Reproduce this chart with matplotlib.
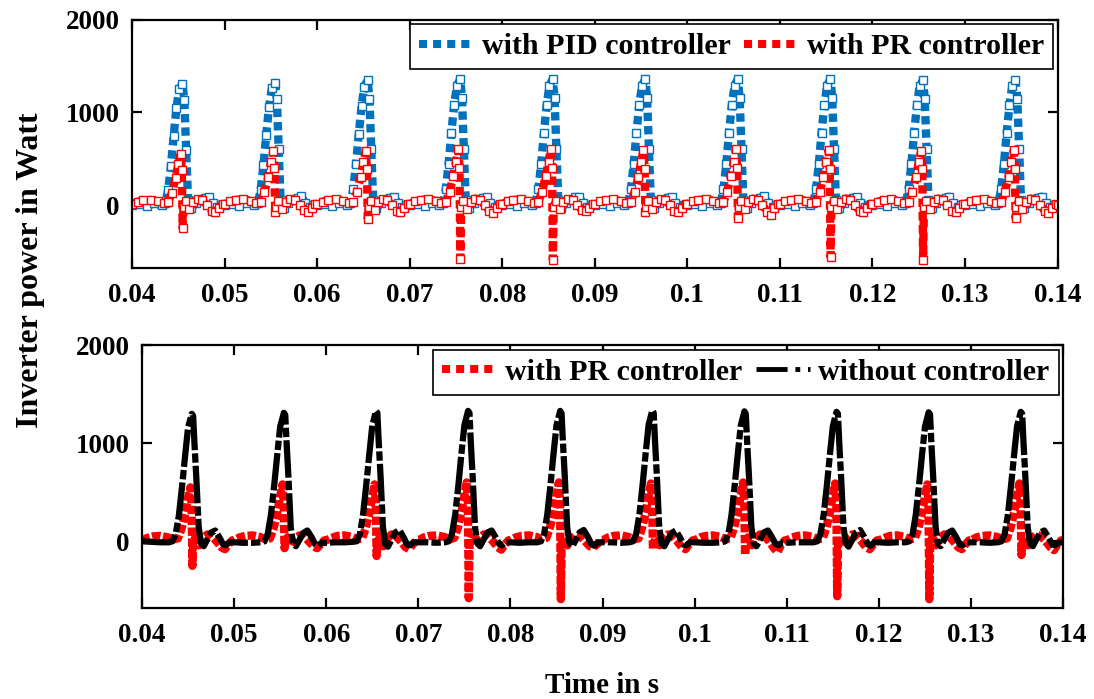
import numpy as np
import matplotlib; matplotlib.use('Agg')
import matplotlib.pyplot as plt
from matplotlib.lines import Line2D

plt.rcParams['font.family'] = ['Liberation Serif', 'DejaVu Serif']
plt.rcParams['font.weight'] = 'bold'

# --- data ----------------------------------------------------------------
# each period (0.01 s) starts at one of these times
CYCLE_START = [0.04, 0.05, 0.06, 0.07, 0.08, 0.09, 0.10, 0.11, 0.12, 0.13]
T_END = 0.14

# without controller (black), sample times within a period in ms
NC_OFF = [0.0, 1.0, 2.0, 2.9, 3.3, 3.65, 4.0, 4.35, 4.7, 5.0, 5.4, 5.55,
          5.7, 5.9, 6.15, 6.4, 6.7, 7.1, 7.5, 7.95, 8.4, 8.8, 9.1, 9.5]
NC_VALS = [
    [0, -5, -10, -10, 0, 70, 260, 560, 890, 1160, 1300, 1280, 990, 640, 150, -20, -50, 20, 90, 110, 40, -30, -40, -10],
    [-10, -15, -15, -10, 0, 75, 270, 570, 900, 1170, 1310, 1290, 1000, 650, 140, -20, -50, 15, 85, 110, 45, -30, -45, -15],
    [-15, -10, -10, -5, 0, 70, 275, 580, 910, 1180, 1330, 1310, 1010, 660, 150, -25, -55, 20, 90, 115, 40, -35, -40, -10],
    [-10, -10, -15, -10, 0, 75, 270, 575, 915, 1185, 1330, 1310, 1000, 650, 145, -20, -50, 20, 90, 110, 40, -30, -40, -10],
    [-10, -15, -10, -10, 0, 70, 275, 580, 915, 1185, 1330, 1305, 1005, 655, 150, -20, -55, 15, 90, 115, 45, -30, -45, -10],
    [-10, -10, -15, -10, 0, 75, 275, 580, 920, 1190, 1335, 1310, 1010, 650, 145, -25, -50, 20, 85, 110, 40, -35, -40, -10],
    [-10, -15, -15, -10, 0, 70, 270, 575, 910, 1180, 1325, 1300, 1000, 650, 150, -20, -50, 20, 90, 110, 40, -30, -40, -15],
    [-15, -10, -10, -10, 0, 75, 270, 570, 905, 1175, 1320, 1300, 995, 645, 145, -20, -55, 15, 90, 115, 45, -30, -45, -10],
    [-10, -15, -10, -10, 0, 70, 270, 570, 900, 1170, 1315, 1295, 990, 640, 150, -25, -50, 20, 85, 110, 40, -35, -40, -10],
    [-10, -10, -15, -10, 0, 75, 270, 575, 905, 1175, 1320, 1300, 1000, 650, 145, -20, -50, 20, 90, 110, 40, -30, -40, -15],
]
NC_LAST = -10

# with PR controller (red)
PR_OFF = [0.0, 0.6, 1.2, 2.0, 2.8, 3.4, 3.9, 4.3, 4.7, 5.0, 5.25, 5.38,
          5.47, 5.56, 5.8, 6.2, 6.6, 7.1, 7.6, 8.1, 8.6, 9.0, 9.4, 9.8]
PR_VALS = [
    [10, 35, 50, 55, 40, 20, 30, 130, 290, 440, 550, 380, -250, -20, 40, -40, 30, 70, 50, 0, -60, -80, -30, 10],
    [10, 40, 55, 60, 45, 20, 30, 140, 300, 460, 580, 400, -70, -20, 40, -40, 30, 60, 50, 0, -50, -70, -30, 10],
    [10, 35, 55, 60, 45, 20, 30, 140, 300, 460, 580, 390, -150, -20, 40, -50, 30, 70, 50, 0, -60, -80, -30, 10],
    [10, 40, 55, 60, 45, 20, 35, 140, 310, 470, 600, 400, -580, -20, 40, -40, 30, 70, 50, 0, -60, -85, -30, 10],
    [10, 40, 55, 60, 45, 20, 35, 145, 310, 470, 600, 400, -590, -20, 40, -40, 30, 65, 50, 0, -50, -60, -30, 10],
    [10, 40, 55, 60, 45, 20, 30, 140, 305, 465, 590, 390, -80, -20, 40, -40, 30, 70, 50, 0, -60, -80, -30, 10],
    [10, 40, 55, 60, 45, 20, 35, 145, 310, 470, 600, 400, -140, -20, 40, -40, 30, 70, 50, 0, -70, -110, -30, 10],
    [10, 40, 55, 60, 45, 20, 30, 140, 305, 465, 590, 390, -560, -20, 40, -40, 30, 70, 50, 0, -60, -80, -30, 10],
    [10, 35, 55, 60, 45, 20, 30, 140, 300, 460, 580, 390, -590, -20, 40, -40, 30, 70, 50, 0, -60, -80, -30, 10],
    [10, 40, 55, 60, 45, 20, 30, 140, 305, 465, 590, 390, -140, -20, 40, -40, 30, 70, 50, 0, -60, -90, -30, 10],
]
PR_LAST = 0

# with PID controller (blue)
PID_OFF = [0.0, 0.8, 1.6, 2.4, 3.2, 3.6, 3.9, 4.2, 4.5, 4.8, 5.1, 5.45,
           5.65, 5.85, 6.05, 6.4, 6.9, 7.4, 7.9, 8.3, 8.7, 9.2, 9.6]
PID_VALS = [
    [0, 15, -10, 20, 0, 20, 160, 420, 750, 1050, 1250, 1310, 1130, 590, 50, -30, 20, 50, 80, 90, 20, -20, 0],
    [0, 15, -10, 20, 0, 20, 165, 430, 760, 1060, 1260, 1320, 1140, 600, 50, -30, 20, 50, 80, 95, 20, -20, 0],
    [0, 15, -10, 20, 0, 20, 170, 440, 770, 1070, 1280, 1350, 1150, 600, 50, -30, 20, 50, 80, 90, 20, -20, 0],
    [0, 15, -10, 20, 0, 20, 170, 440, 780, 1080, 1290, 1360, 1160, 610, 50, -30, 20, 50, 80, 90, 20, -20, 0],
    [0, 15, -10, 20, 0, 20, 170, 440, 780, 1080, 1290, 1360, 1160, 610, 50, -30, 20, 50, 85, 90, 20, -20, 0],
    [0, 15, -10, 20, 0, 20, 170, 440, 780, 1080, 1290, 1360, 1160, 610, 50, -30, 20, 50, 80, 90, 20, -20, 0],
    [0, 15, -10, 20, 0, 20, 170, 440, 780, 1080, 1290, 1360, 1160, 610, 50, -30, 20, 50, 80, 95, 20, -20, 0],
    [0, 15, -10, 20, 0, 20, 170, 440, 780, 1080, 1290, 1360, 1160, 610, 50, -30, 20, 50, 80, 90, 20, -20, 0],
    [0, 15, -10, 20, 0, 20, 170, 440, 775, 1075, 1285, 1350, 1150, 600, 50, -30, 20, 50, 80, 90, 20, -20, 0],
    [0, 15, -10, 20, 0, 20, 170, 440, 775, 1075, 1285, 1350, 1150, 600, 50, -30, 20, 50, 80, 90, 20, -20, 0],
]
PID_LAST = 0

XTICKS = [0.04, 0.05, 0.06, 0.07, 0.08, 0.09, 0.10, 0.11, 0.12, 0.13, 0.14]
YTICKS = [0, 1000, 2000]
YLIM = (-680, 2000)

BLUE = '#0072BD'
RED = '#FF0000'


def series(off, vals, last):
    t = [s + np.array(off) / 1000.0 for s in CYCLE_START] + [np.array([T_END])]
    y = [np.array(v, dtype=float) for v in vals] + [np.array([last], dtype=float)]
    return np.concatenate(t), np.concatenate(y)


t_nc, y_nc = series(NC_OFF, NC_VALS, NC_LAST)
t_pr, y_pr = series(PR_OFF, PR_VALS, PR_LAST)
t_pid, y_pid = series(PID_OFF, PID_VALS, PID_LAST)

fig = plt.figure(figsize=(10.94, 6.99), dpi=100)
ax1 = fig.add_axes([0.1207, 0.6166, 0.846, 0.355])
ax2 = fig.add_axes([0.1298, 0.1302, 0.842, 0.376])

# top: PID vs PR
ax1.plot(t_pid, y_pid, color=BLUE, lw=6, ls=(0, (1, 0.6)))
ax1.plot(t_pid, y_pid, ls='none', marker='s', ms=6, mfc='white', mec=BLUE, mew=1)
ax1.plot(t_pr, y_pr, color=RED, lw=6, ls=(0, (1, 0.6)))
ax1.plot(t_pr, y_pr, ls='none', marker='s', ms=6, mfc='white', mec=RED, mew=1)

# bottom: PR vs no controller
ax2.plot(t_pr, y_pr, color=RED, lw=6, ls=(0, (1, 0.3)))
ax2.plot(t_nc, y_nc, color='k', lw=4.5, ls=(0, (6, 0.5, 1.5, 0.5)))

for ax in (ax1, ax2):
    ax.set_xlim(0.04, 0.14)
    ax.set_ylim(*YLIM)
    ax.set_xticks(XTICKS)
    ax.set_xticklabels(['%g' % v for v in XTICKS])
    ax.set_yticks(YTICKS)
    for sp in ax.spines.values():
        sp.set_linewidth(1.6)
    ax.tick_params(direction='in', length=7, width=1.6, top=True, right=True,
                   labelsize=19.5)
    ax.tick_params(axis='x', pad=11)
    ax.tick_params(axis='y', pad=9)

leg_kw = dict(loc='upper right', ncol=2, bbox_to_anchor=(1, 1), borderaxespad=0.15,
              prop=dict(size=21.5, weight='bold'), fancybox=False, edgecolor='k',
              framealpha=1, handlelength=1.8, handletextpad=0.3, columnspacing=0.45,
              borderpad=0.3)

h1 = [Line2D([], [], color=BLUE, lw=5.8, ls=(0, (1, 0.75))),
      Line2D([], [], color=RED, lw=5.8, ls=(0, (1, 0.75)))]
lg = ax1.legend(h1, ['with PID controller', 'with PR controller'], **leg_kw)
lg.get_frame().set_linewidth(1.2)

h2 = [Line2D([], [], color=RED, lw=5.8, ls=(0, (1, 0.75))),
      Line2D([], [], color='k', lw=3.5, ls='-.')]
lg = ax2.legend(h2, ['with PR controller', 'without controller'], **leg_kw)
lg.get_frame().set_linewidth(1.2)

fig.text(0.028, 0.614, 'Inverter power in Watt', rotation=90, ha='center',
         va='center', fontsize=23)
fig.text(0.5503, 0.02, 'Time in s', ha='center', va='center', fontsize=21)

fig.savefig('out.png', dpi=100)
